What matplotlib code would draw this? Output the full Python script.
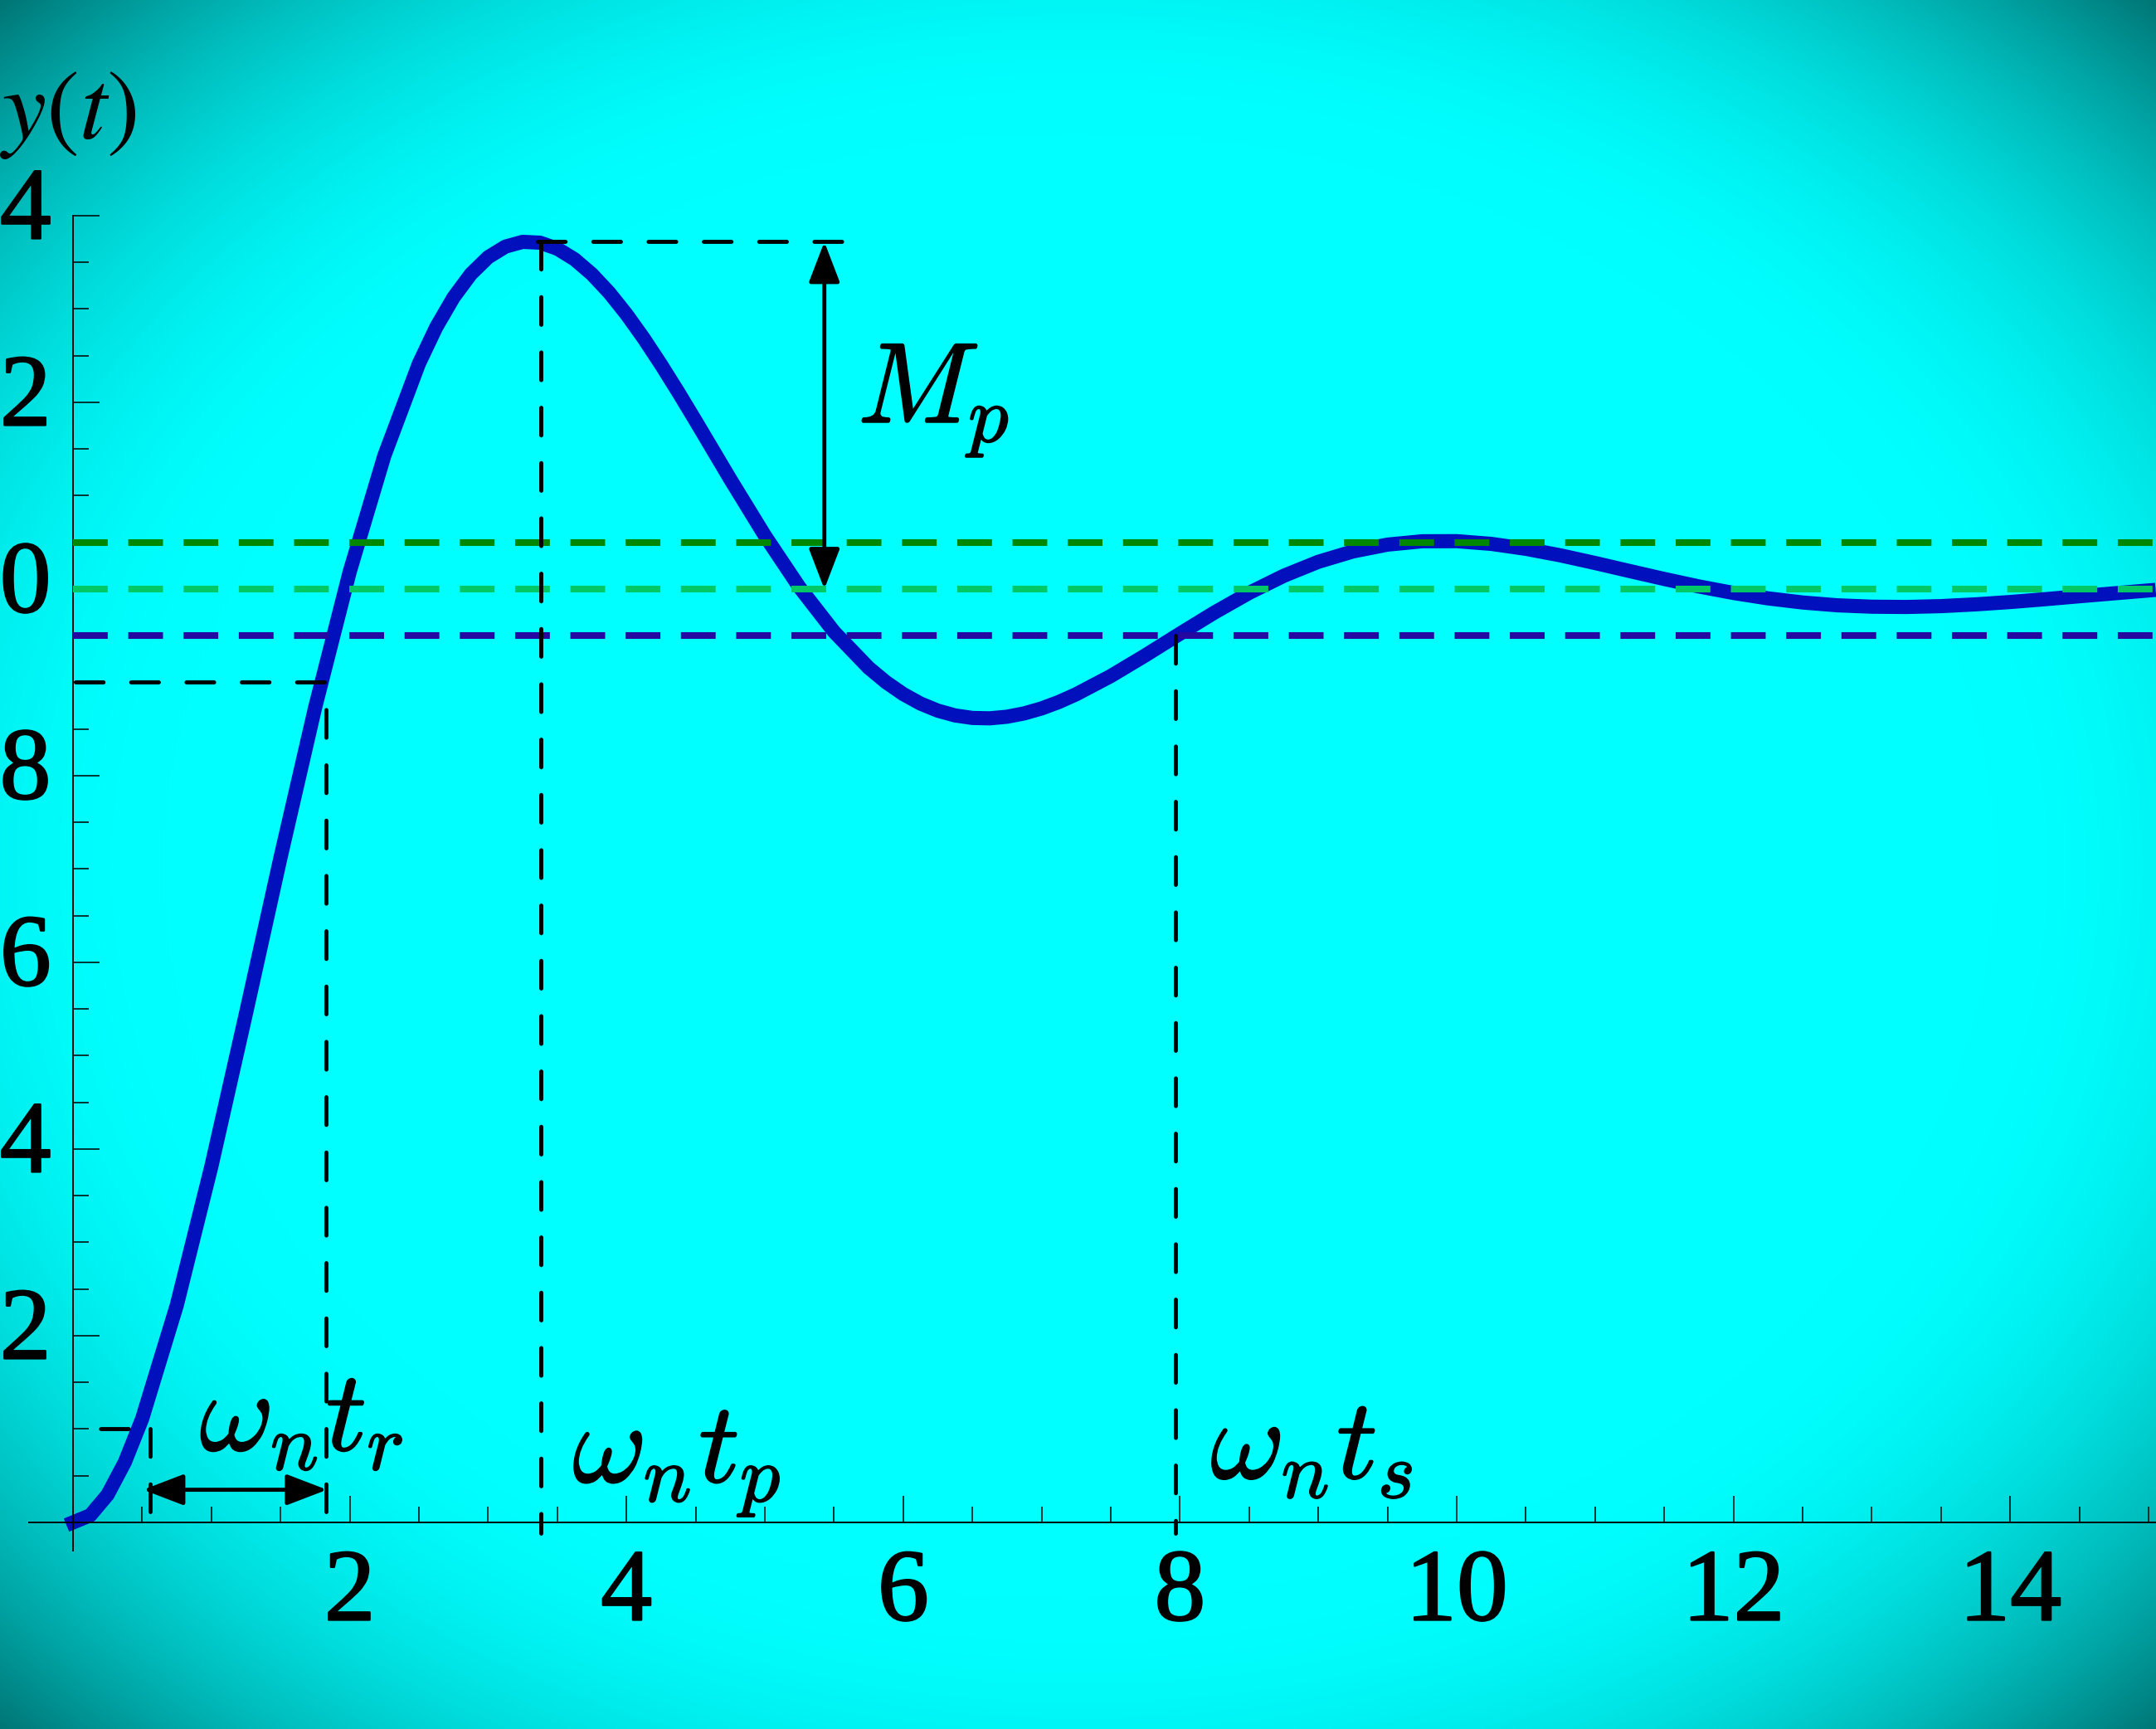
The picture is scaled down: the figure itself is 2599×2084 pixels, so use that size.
import numpy as np
import matplotlib
matplotlib.use("Agg")
import matplotlib.pyplot as plt
import matplotlib.patheffects as pe
from matplotlib.patches import ArrowStyle
from matplotlib.ticker import MultipleLocator, FixedLocator
from matplotlib.transforms import ScaledTranslation

plt.rcParams['mathtext.fontset'] = 'cm'

W, H, DPI = 2599, 2084, 100

# ---------------- data ----------------
t_vals = [0, 0.125, 0.25, 0.375, 0.5, 0.75, 1.0, 1.25, 1.5, 1.75, 2.0, 2.25, 2.5,
          2.625, 2.75, 2.875, 3.0, 3.125, 3.25, 3.375, 3.5, 3.625, 3.75, 3.875,
          4.0, 4.125, 4.25, 4.375, 4.5, 4.75, 5.0, 5.25, 5.5, 5.75, 5.875, 6.0,
          6.125, 6.25, 6.375, 6.5, 6.625, 6.75, 6.875, 7.0, 7.125, 7.25, 7.5,
          7.75, 8.0, 8.25, 8.5, 8.75, 9.0, 9.25, 9.5, 9.75, 10.0, 10.25, 10.5,
          10.75, 11.0, 11.25, 11.5, 11.75, 12.0, 12.25, 12.5, 12.75, 13.0, 13.25,
          13.5, 13.75, 14.0, 14.25, 14.5, 14.75, 15.0]
y_vals = [0.0000, 0.0076, 0.0296, 0.0646, 0.1111, 0.2326, 0.3814, 0.5453, 0.7125,
          0.8731, 1.0186, 1.1428, 1.2415, 1.2805, 1.3124, 1.3374, 1.3555, 1.3669,
          1.3720, 1.3711, 1.3647, 1.3533, 1.3374, 1.3176, 1.2944, 1.2685, 1.2404,
          1.2108, 1.1801, 1.1177, 1.0573, 1.0019, 0.9542, 0.9157, 0.9003, 0.8875,
          0.8773, 0.8697, 0.8646, 0.8619, 0.8615, 0.8632, 0.8668, 0.8721, 0.8790,
          0.8873, 0.9068, 0.9290, 0.9522, 0.9749, 0.9959, 1.0142, 1.0292, 1.0403,
          1.0476, 1.0512, 1.0513, 1.0484, 1.0431, 1.0361, 1.0279, 1.0193, 1.0108,
          1.0028, 0.9958, 0.9900, 0.9856, 0.9826, 0.9811, 0.9808, 0.9817, 0.9836,
          0.9861, 0.9891, 0.9923, 0.9954, 0.9985]

band_levels = [1.05, 1.0, 0.95]
band_colors = ['#008700', '#00C864', '#2408A0']

x_ticks = [2, 4, 6, 8, 10, 12, 14]
x_labels = ['2', '4', '6', '8', '10', '12', '14']
y_ticks = [0.2, 0.4, 0.6, 0.8, 1.0, 1.2, 1.4]
y_labels = ['0.2', '0.4', '0.6', '0.8', '1.0', '1.2', '1.4']

# characteristic times / levels
t_10, t_r, t_p, t_s = 0.557, 1.827, 3.38, 7.97
y_10, y_90, y_peak, y_settle = 0.1, 0.9, 1.372, 0.95
t_curve_peak = 3.36
t_mp_arrow = 5.43
t_peak_line_end = 5.59
tr_arrow_from, tr_arrow_to, tr_arrow_y = 0.507, 1.836, 0.035

# ---------------- figure ----------------
fig = plt.figure(figsize=(W / DPI, H / DPI), dpi=DPI)

# vignette background
bg = fig.add_axes([0, 0, 1, 1], zorder=0)
hh, ww = H // 4, W // 4
yy, xx = np.mgrid[0:hh, 0:ww]
dx = (xx - ww / 2) / (ww / 2)
dy = (yy - hh / 2) / (hh / 2)
d = np.sqrt(dx ** 2 + dy ** 2)
g = 1 - 1.7 * np.clip(d - 0.85, 0, None) ** 2
img = np.zeros((hh, ww, 3), dtype=np.float32)
img[..., 1] = g
img[..., 2] = g
bg.imshow(img, aspect='auto', interpolation='bilinear', extent=[0, 1, 0, 1])
bg.set_axis_off()

xlim = (-0.32, 15.07)
ylim = (-0.03, 1.4)
ax = fig.add_axes([0.013313, 0.103287, 0.98773, 0.771953], zorder=1)
ax.set_facecolor('none')
ax.set_xlim(*xlim)
ax.set_ylim(*ylim)

for s in ['top', 'right']:
    ax.spines[s].set_visible(False)
ax.spines['left'].set_position(('data', 0))
ax.spines['bottom'].set_position(('data', 0))
for s in ['left', 'bottom']:
    ax.spines[s].set_linewidth(1.4)
    ax.spines[s].set_color('black')

# response curve
ax.plot(t_vals, y_vals, color='#0010BC', lw=12.3, solid_joinstyle='round',
        solid_capstyle='projecting', zorder=2, clip_on=False)

# tolerance band lines
for lvl, c in zip(band_levels, band_colors):
    ax.plot([0, xlim[1]], [lvl, lvl], color=c, lw=5.8, dashes=[5.2, 3.07],
            dash_capstyle='butt', zorder=3, clip_on=False)

# black dashed construction lines
lw_b = 3.5
dp = [24 / lw_b, 24 / lw_b]
kw = dict(color='black', lw=lw_b, dash_capstyle='round', zorder=4, clip_on=False)
ax.plot([t_10, t_10], [y_10, -0.012], dashes=dp, **kw)
ax.plot([t_r, t_r], [y_90, -0.012], linestyle=(dp[0], dp), **kw)
ax.plot([t_p, t_p], [y_peak, -0.012], dashes=dp, **kw)
ax.plot([t_s, t_s], [y_settle, -0.012], dashes=dp, **kw)
ax.plot([0.02, t_r], [y_90, y_90], dashes=dp, **kw)
ax.plot([0, t_10], [y_10, y_10], linestyle=(dp[0], dp), **kw)
ax.plot([t_curve_peak, t_peak_line_end], [y_peak, y_peak], dashes=dp, **kw)

# arrows
astyle = ArrowStyle('<|-|>', head_length=30, head_width=11.5)
ax.annotate('', xy=(t_mp_arrow, band_levels[1]), xytext=(t_mp_arrow, y_peak),
            arrowprops=dict(arrowstyle=astyle, mutation_scale=1, lw=3.5,
                            color='black', shrinkA=0, shrinkB=0), zorder=5)
ax.annotate('', xy=(tr_arrow_from, tr_arrow_y), xytext=(tr_arrow_to, tr_arrow_y),
            arrowprops=dict(arrowstyle=astyle, mutation_scale=1, lw=3.5,
                            color='black', shrinkA=0, shrinkB=0), zorder=5)

# labels
bold_fx = [pe.withStroke(linewidth=1.3, foreground='black')]
lab_kw = dict(fontsize=99, ha='left', va='baseline', color='black', zorder=6,
              path_effects=bold_fx)
ax.text(0.915, 0.077, r'$\omega_n t_r$', **lab_kw)
ax.text(3.61, 0.043, r'$\omega_n t_p$', **lab_kw)
ax.text(8.22, 0.047, r'$\omega_n t_s$', **lab_kw)
ax.text(5.67, 1.178, r'$M_p$', **lab_kw)

# ticks
tick_fx = [pe.withStroke(linewidth=1.6, foreground='black')]
ax.xaxis.set_major_locator(FixedLocator(x_ticks))
ax.set_xticklabels(x_labels, fontfamily='Liberation Serif', fontsize=89)
ax.yaxis.set_major_locator(FixedLocator(y_ticks))
ax.set_yticklabels(y_labels, fontfamily='Liberation Serif', fontsize=89)
ax.xaxis.set_minor_locator(MultipleLocator(0.5))
ax.yaxis.set_minor_locator(MultipleLocator(0.05))
ax.tick_params(which='major', direction='in', length=23, width=1.1, color='black')
ax.tick_params(which='minor', direction='in', length=13.7, width=1.1, color='black')
ax.tick_params(axis='x', which='major', pad=22)
ax.tick_params(axis='y', which='major', pad=19)
for lab in ax.get_xticklabels():
    lab.set_path_effects(tick_fx)
for lab in ax.get_yticklabels():
    lab.set_path_effects(tick_fx)
    lab.set_transform(lab.get_transform() + ScaledTranslation(0, 16 / DPI, fig.dpi_scale_trans))

# y(t) axis label
ax.set_ylabel(r'$y(t)$', rotation=0, fontsize=86, math_fontfamily='stix',
              ha='left', va='baseline')
ax.yaxis.set_label_coords(0.0, 1 - 167 / H, transform=fig.transFigure)

fig.savefig('out.png', dpi=DPI)
